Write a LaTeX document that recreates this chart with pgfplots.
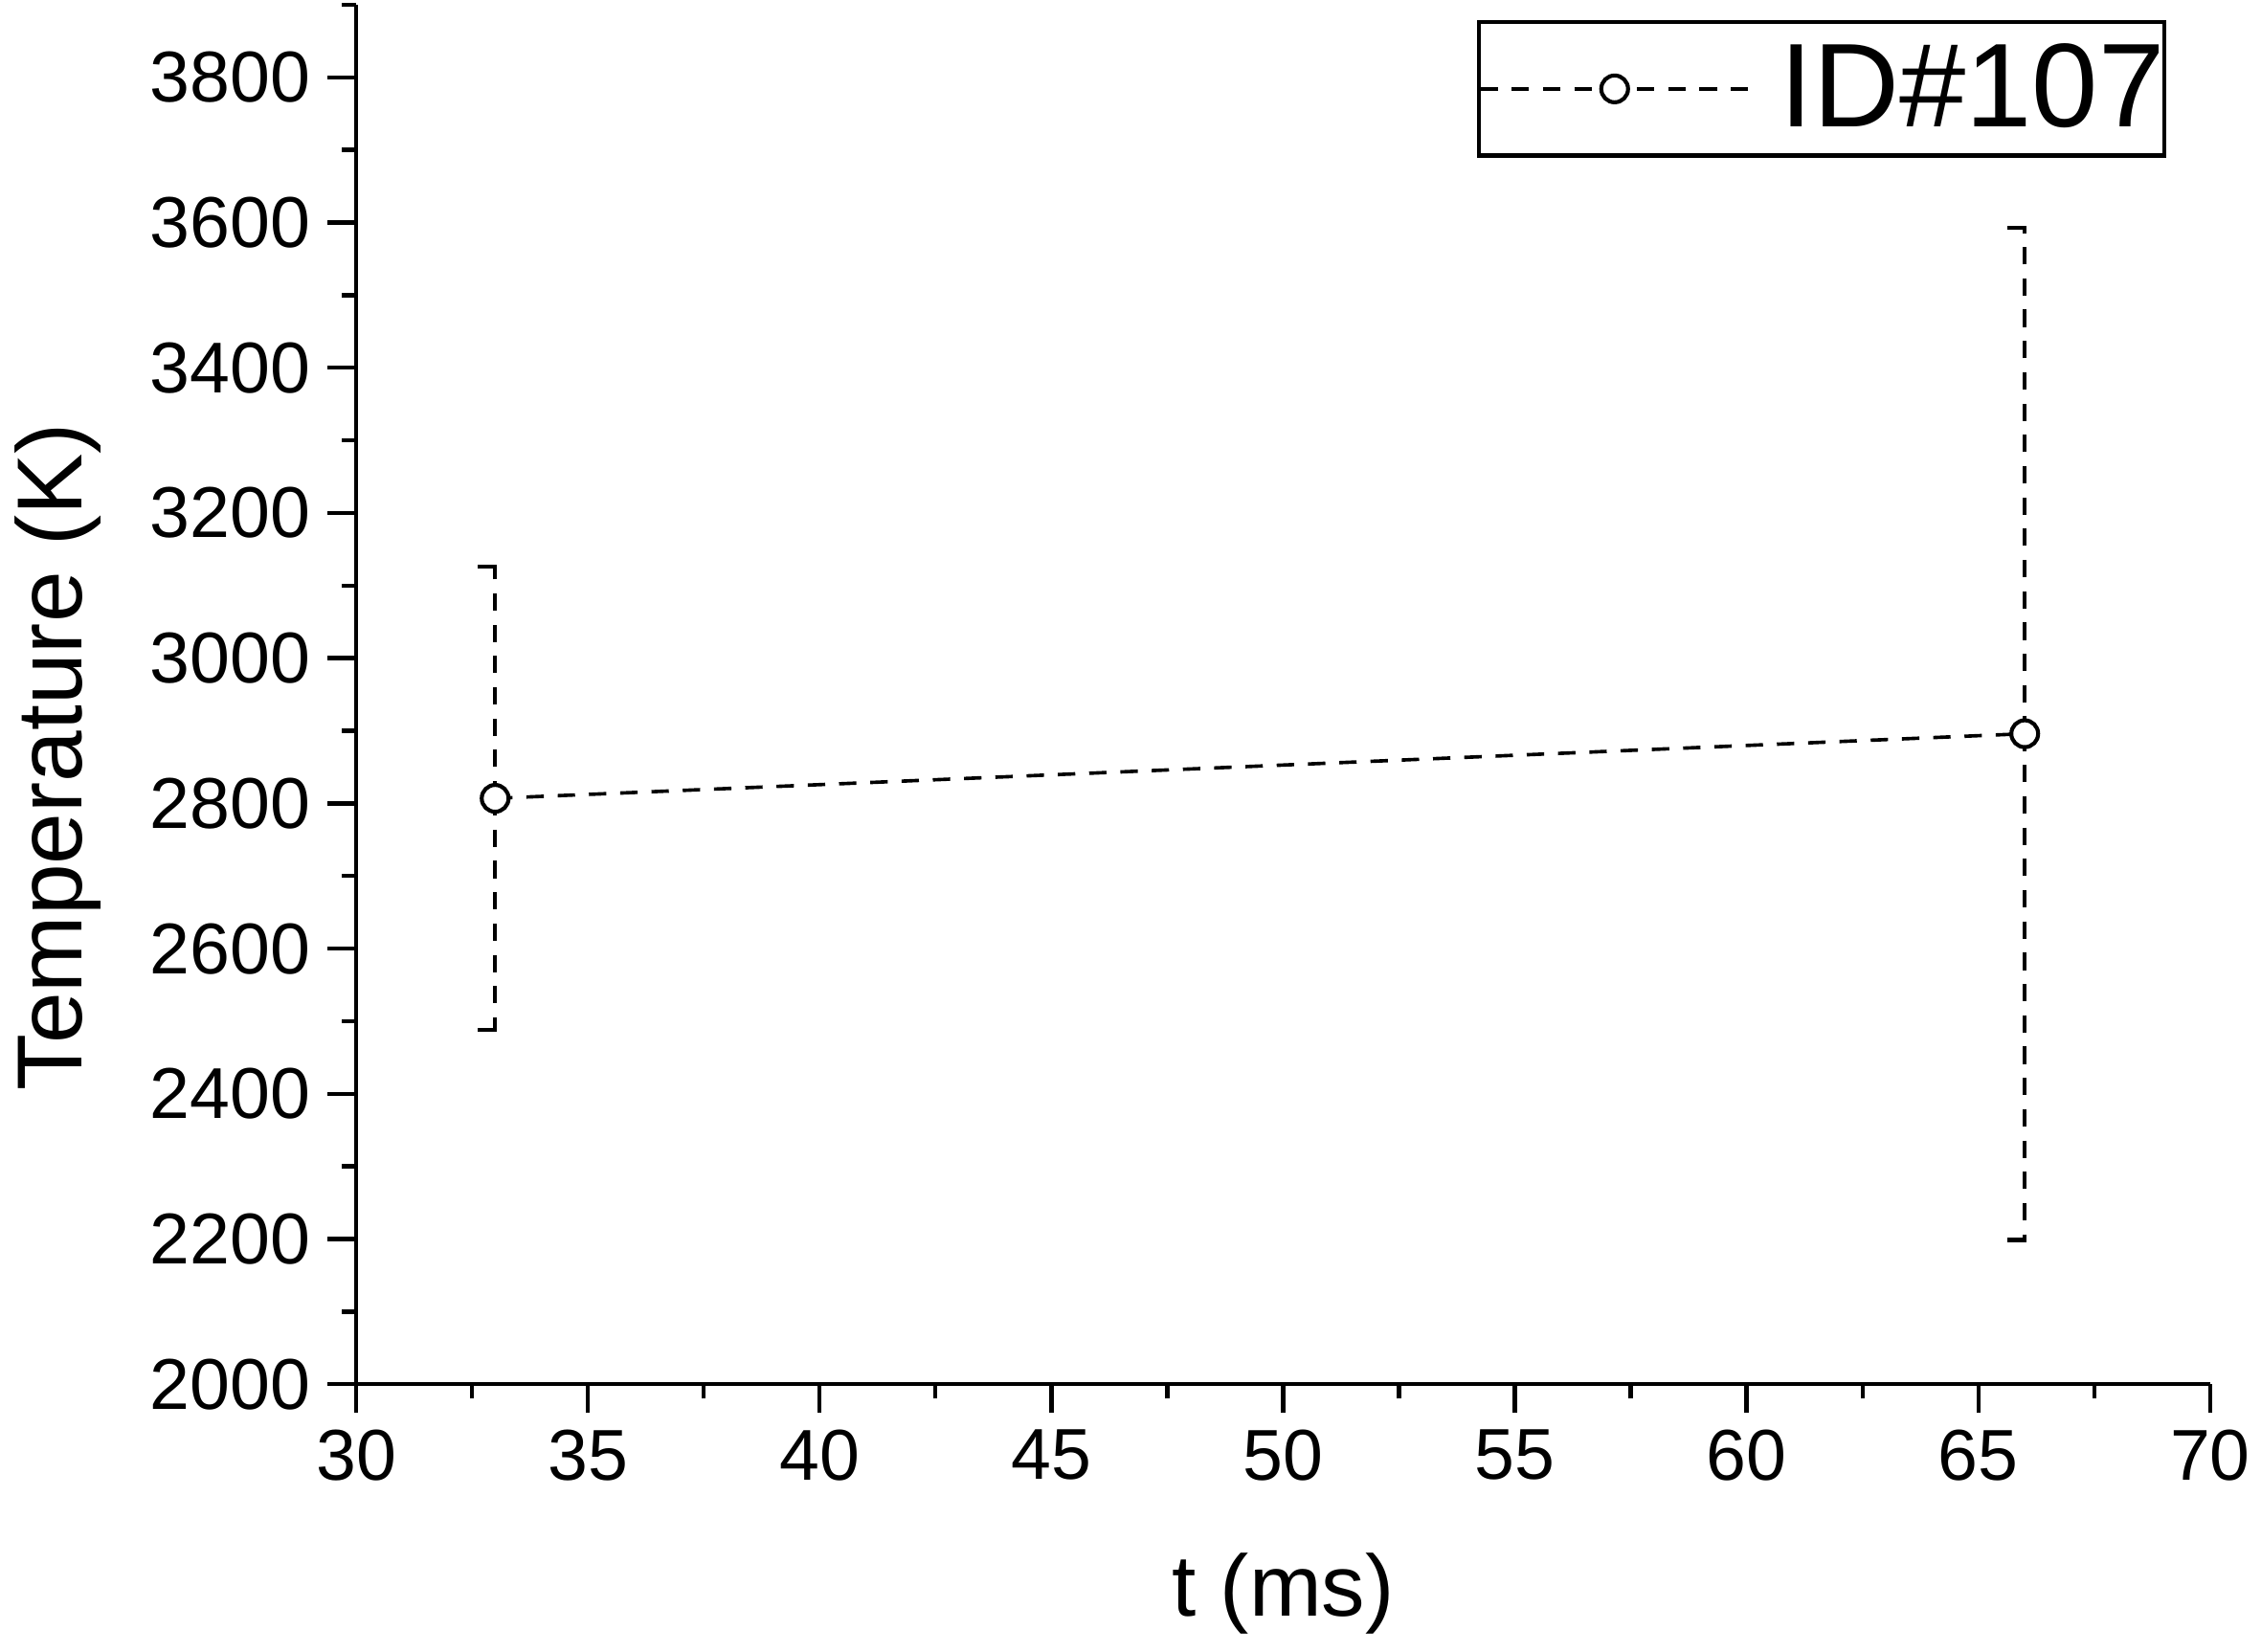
\documentclass[border=0pt]{standalone}
\usepackage{fontspec}
\setmainfont{Liberation Sans}
\usepackage{pgfplots}
\pgfplotsset{compat=1.18}
\pgfdeclareplotmark{leftcap}{%
  \pgfpathmoveto{\pgfqpoint{-\pgfplotmarksize}{0pt}}%
  \pgfpathlineto{\pgfqpoint{0.3pt}{0pt}}%
  \pgfusepathqstroke}
\begin{document}
\begin{tikzpicture}
\useasboundingbox (-2.52cm,-1.89cm) rectangle (13.48cm,9.797cm);
\begin{axis}[
  at={(0,0)}, anchor=south west,
  scale only axis,
  width=13.12cm, height=9.763cm,
  xmin=30, xmax=70, ymin=2000, ymax=3900,
  axis x line*=bottom, axis y line*=left,
  axis line style={line width=0.85pt, -},
  xtick={30,35,...,70},
  minor xtick={32.5,37.5,...,67.5},
  ytick={2000,2200,...,3800},
  minor ytick={2100,2300,...,3900},
  tick align=outside,
  major tick length=0.2cm, minor tick length=0.1cm,
  tick style={line width=0.85pt, black},
  /pgf/number format/assume math mode=true,
  /pgf/number format/1000 sep={},
  ticklabel style={font=\fontsize{14.5}{16}\selectfont},
  xlabel={t (ms)}, ylabel={Temperature (K)},
  xlabel style={font=\fontsize{17.5}{20}\selectfont, at={(axis description cs:0.5,-0.1516)}, anchor=center},
  ylabel style={font=\fontsize{18.6}{21}\selectfont, at={(axis description cs:-0.1608,0.455)}, anchor=center},
  legend style={at={(rel axis cs:0.6044,0.9888)}, anchor=north west,
    draw=black, line width=0.8pt, inner xsep=0pt, inner ysep=0pt,
    font=\fontsize{24}{28}\selectfont,
    nodes={inner xsep=0pt, inner ysep=4.3pt},
    /tikz/every odd column/.append style={column sep=0.21cm}},
  legend image code/.code={%
    \draw[mark repeat=2, mark phase=2, #1] plot coordinates {(0cm,0cm) (0.95cm,0cm) (1.9cm,0cm)};},
]
\addplot[black, line width=0.7pt, dash pattern=on 3.5pt off 2.8pt,
  mark=*, mark size=2.7pt, mark options={solid, fill=white, draw=black, line width=0.8pt},
  error bars/.cd, y dir=both, y explicit,
  error bar style={line width=0.7pt, dash pattern=on 3.5pt off 2.8pt},
  error mark=none]
coordinates {
  (33,2807) +- (0,319)
  (66,2896) +- (0,697)
};
\addlegendentry{ID\#107}
% one-sided caps at the error bar ends
\addplot[forget plot, only marks, black, mark=leftcap, mark size=3.5pt,
  mark options={solid, line width=0.85pt}]
coordinates {
  (33,3126) (33,2488) (66,3593) (66,2199)
};
\end{axis}
\end{tikzpicture}
\end{document}
